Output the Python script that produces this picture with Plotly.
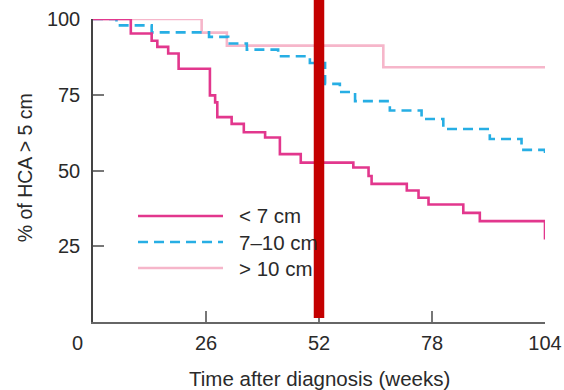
import plotly.graph_objects as go

# Data (weeks, % with HCA > 5 cm)
lt7_weeks = [0, 8.7, 13.5, 14.8, 17.3, 19.7, 26.9, 28.1, 28.6, 31.9, 34.7, 39.6, 43.0, 47.8,
             59.9, 63.4, 64.1, 72.2, 74.9, 77.2, 85.2, 89.0, 104]
lt7_vals = [100, 95.2, 92.8, 90.8, 88.6, 83.6, 74.8, 72.5, 67.6, 65.4, 62.6, 60.9, 55.4, 52.6,
            51.0, 48.2, 45.6, 43.4, 41.0, 38.8, 36.0, 33.3, 27.2]

mid_weeks = [0, 5.4, 13.5, 26.7, 31.1, 35.4, 42.6, 49.9, 53.4, 56.8, 60.3, 68.3, 75.6, 80.6,
             91.3, 98.6, 104]
mid_vals = [100, 97.9, 95.6, 94.1, 91.9, 89.9, 87.7, 85.5, 78.6, 75.9, 72.9, 69.8, 67.0, 63.7,
            60.4, 56.8, 54.8]

gt10_weeks = [0, 25.0, 30.8, 66.8, 104]
gt10_vals = [100, 95.5, 91.2, 84.1, 84.1]

x_ticks = [26, 52, 78, 104]
y_ticks = [25, 50, 75, 100]
marker_week = 52

labels = ["< 7 cm", "7\u201310 cm", "> 10 cm"]
colors = ["#e2378d", "#27aee4", "#f6b6ca"]
dashes = ["solid", "10px,6px", "solid"]

FONT = "Liberation Sans, Arial, sans-serif"
TXT = "#2a2a2a"

fig = go.Figure()
series = [(lt7_weeks, lt7_vals), (mid_weeks, mid_vals), (gt10_weeks, gt10_vals)]
for i in [2, 1, 0]:
    xs, ys = series[i]
    fig.add_trace(go.Scatter(
        x=xs, y=ys, mode="lines", line_shape="hv",
        line=dict(color=colors[i], width=2.6, dash=dashes[i]),
        name=labels[i], showlegend=False, hoverinfo="skip", cliponaxis=False))

# Manual legend
leg_y = [0.35, 0.264, 0.178]
for i in range(3):
    fig.add_shape(type="line", xref="paper", yref="paper",
                  x0=0.0996, x1=0.2876, y0=leg_y[i], y1=leg_y[i],
                  line=dict(color=colors[i], width=2.6, dash=dashes[i]))
    fig.add_annotation(text=labels[i], xref="paper", yref="paper",
                       x=0.318, y=leg_y[i], xanchor="left", yanchor="middle",
                       showarrow=False, font=dict(family=FONT, size=20.5, color=TXT))

# Red vertical marker
fig.add_shape(type="line", xref="x", yref="paper", x0=marker_week, x1=marker_week,
              y0=0.013, y1=1.07, line=dict(color="#c40000", width=10.5), layer="above")

# Origin label
fig.add_annotation(text="0", xref="x", yref="paper", x=0, y=0, xshift=-16, yshift=-21,
                   xanchor="center", yanchor="middle", showarrow=False,
                   font=dict(family=FONT, size=20, color=TXT))
# Axis titles
fig.add_annotation(text="Time after diagnosis (weeks)", xref="paper", yref="paper",
                   x=0.502, y=-0.185, xanchor="center", yanchor="middle", showarrow=False,
                   font=dict(family=FONT, size=20.5, color=TXT))
fig.add_annotation(text="% of HCA > 5 cm", xref="paper", yref="paper",
                   x=-0.150, y=0.508, textangle=-90, xanchor="center", yanchor="middle",
                   showarrow=False, font=dict(family=FONT, size=19.5, color=TXT))

fig.update_xaxes(range=[0, 104], tickvals=x_ticks, ticks="inside", ticklen=11,
                 tickcolor="#777", tickwidth=1.5, showline=True, linecolor="#666",
                 linewidth=1.5, showgrid=False, zeroline=False, automargin=False,
                 ticklabelstandoff=2,
                 tickfont=dict(family=FONT, size=20, color=TXT))
fig.update_yaxes(range=[0, 100], tickvals=y_ticks, ticks="inside", ticklen=11,
                 tickcolor="#777", tickwidth=1.5, showline=True, linecolor="#444",
                 linewidth=1.5, showgrid=False, zeroline=False, automargin=False,
                 ticklabelstandoff=7,
                 tickfont=dict(family=FONT, size=20, color=TXT))

fig.update_layout(width=564, height=390, margin=dict(l=93, r=19, t=19, b=68),
                  plot_bgcolor="white", paper_bgcolor="white", showlegend=False)

fig.write_html("out.html")
